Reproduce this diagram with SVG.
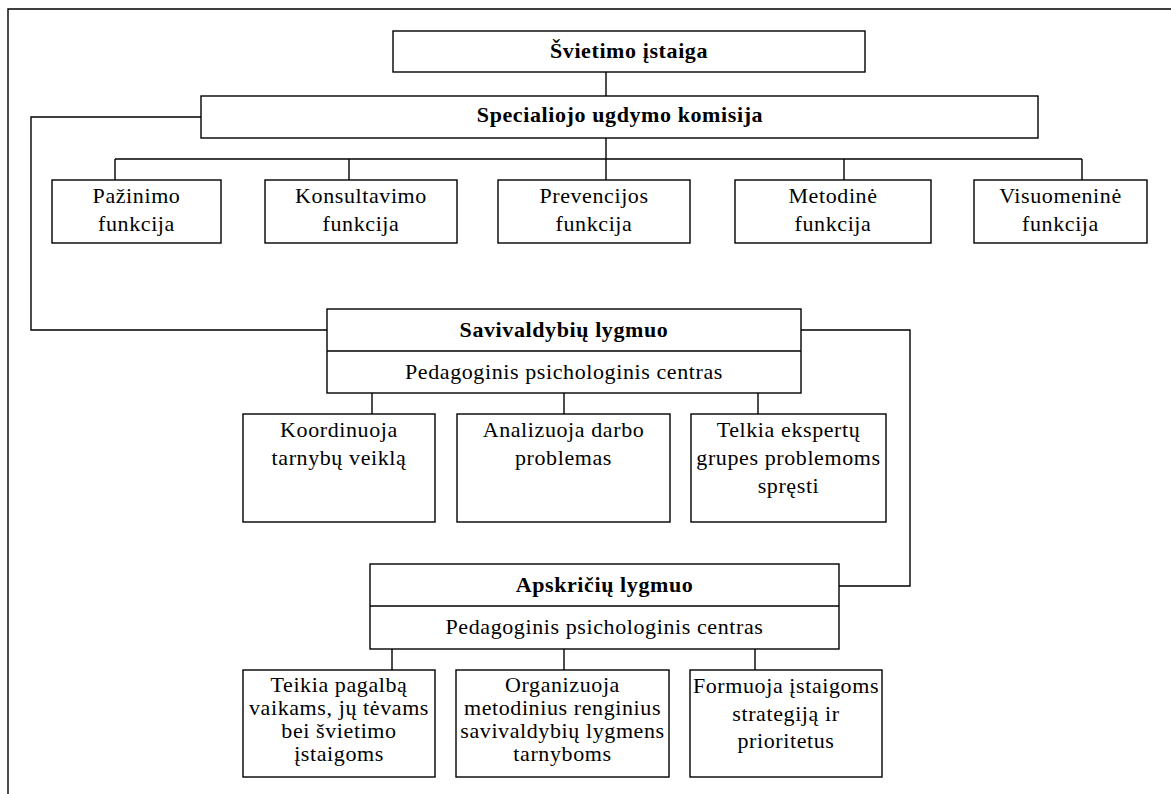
<svg xmlns="http://www.w3.org/2000/svg" width="1171" height="794" viewBox="0 0 1171 794">
<style>
rect{fill:#fff;stroke:#000;stroke-width:1.4}
line,polyline{fill:none;stroke:#000;stroke-width:1.4}
text{font-family:"Liberation Serif","Times New Roman",serif;font-size:22px;fill:#000;text-anchor:middle;letter-spacing:0.6px}
.b{font-weight:bold}
</style>
<rect x="0" y="0" width="1171" height="794" style="stroke:none"/>
<polyline points="8,794 8,9 1171,9"/>
<g id="connectors">
<line x1="606" y1="72" x2="606" y2="96"/>
<line x1="606" y1="138" x2="606" y2="180"/>
<line x1="115" y1="159" x2="1082" y2="159"/>
<line x1="115" y1="159" x2="115" y2="180"/>
<line x1="349" y1="159" x2="349" y2="180"/>
<line x1="844" y1="159" x2="844" y2="180"/>
<line x1="1082" y1="159" x2="1082" y2="180"/>
<polyline points="201,117 31,117 31,330 327,330"/>
<polyline points="801,330 910,330 910,586 839,586"/>
<line x1="372" y1="393" x2="372" y2="414"/>
<line x1="564" y1="393" x2="564" y2="414"/>
<line x1="758" y1="393" x2="758" y2="414"/>
<line x1="392" y1="649" x2="392" y2="670"/>
<line x1="564" y1="649" x2="564" y2="670"/>
<line x1="755" y1="649" x2="755" y2="670"/>
</g>
<g id="svietimo">
<rect x="393" y="31" width="472" height="41"/>
<text class="b" x="629" y="58">Švietimo įstaiga</text>
</g>
<g id="komisija">
<rect x="201" y="96" width="837" height="42"/>
<text class="b" x="620" y="122">Specialiojo ugdymo komisija</text>
</g>
<g id="pazinimo">
<rect x="52" y="180" width="169" height="63"/>
<text x="136.5" y="203">Pažinimo</text>
<text x="136.5" y="231">funkcija</text>
</g>
<g id="konsultavimo">
<rect x="265" y="180" width="192" height="63"/>
<text x="361" y="203">Konsultavimo</text>
<text x="361" y="231">funkcija</text>
</g>
<g id="prevencijos">
<rect x="498" y="180" width="192" height="63"/>
<text x="594" y="203">Prevencijos</text>
<text x="594" y="231">funkcija</text>
</g>
<g id="metodine">
<rect x="735" y="180" width="196" height="63"/>
<text x="833" y="203">Metodinė</text>
<text x="833" y="231">funkcija</text>
</g>
<g id="visuomenine">
<rect x="974" y="180" width="173" height="63"/>
<text x="1060.5" y="203">Visuomeninė</text>
<text x="1060.5" y="231">funkcija</text>
</g>
<g id="savivaldybiu">
<rect x="327" y="309" width="474" height="84"/>
<line x1="327" y1="351" x2="801" y2="351"/>
<text class="b" x="564" y="337">Savivaldybių lygmuo</text>
<text x="564" y="379">Pedagoginis psichologinis centras</text>
</g>
<g id="koordinuoja">
<rect x="243" y="414" width="192" height="108"/>
<text x="339" y="437">Koordinuoja</text>
<text x="339" y="465">tarnybų veiklą</text>
</g>
<g id="analizuoja">
<rect x="457" y="414" width="213" height="108"/>
<text x="563.5" y="437">Analizuoja darbo</text>
<text x="563.5" y="465">problemas</text>
</g>
<g id="telkia">
<rect x="691" y="414" width="195" height="108"/>
<text x="788.5" y="437">Telkia ekspertų</text>
<text x="788.5" y="465">grupes problemoms</text>
<text x="788.5" y="493">spręsti</text>
</g>
<g id="apskriciu">
<rect x="370" y="564" width="469" height="85"/>
<line x1="370" y1="606" x2="839" y2="606"/>
<text class="b" x="604.5" y="592">Apskričių lygmuo</text>
<text x="604.5" y="634">Pedagoginis psichologinis centras</text>
</g>
<g id="teikia">
<rect x="243" y="670" width="192" height="107"/>
<text x="339" y="692">Teikia pagalbą</text>
<text x="339" y="715">vaikams, jų tėvams</text>
<text x="339" y="738">bei švietimo</text>
<text x="339" y="761">įstaigoms</text>
</g>
<g id="organizuoja">
<rect x="456" y="670" width="213" height="107"/>
<text x="562.5" y="692">Organizuoja</text>
<text x="562.5" y="715">metodinius renginius</text>
<text x="562.5" y="738">savivaldybių lygmens</text>
<text x="562.5" y="761">tarnyboms</text>
</g>
<g id="formuoja">
<rect x="690" y="670" width="192" height="107"/>
<text x="786" y="693">Formuoja įstaigoms</text>
<text x="786" y="721">strategiją ir</text>
<text x="786" y="748">prioritetus</text>
</g>
</svg>
